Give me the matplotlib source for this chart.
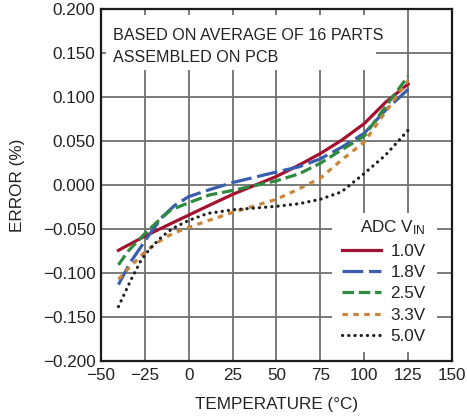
import matplotlib
matplotlib.use("Agg")
import matplotlib.pyplot as plt
from matplotlib.patches import Rectangle

plt.rcParams['font.family'] = ['Liberation Sans', 'DejaVu Sans']
plt.rcParams['mathtext.default'] = 'regular'
plt.rcParams['axes.unicode_minus'] = True

# ---- data ----
t_red = [-40, -25, -12.6, 0, 12, 25, 50, 63, 75, 87, 100, 112, 125]
e_red = [-0.074, -0.058, -0.046, -0.034, -0.0226, -0.0105, 0.010, 0.023, 0.036, 0.051, 0.070, 0.094, 0.115]

t_blue = [-40, -33, -22, -15, -8, 0, 12, 25, 50, 63, 75, 87, 100, 112, 125]
e_blue = [-0.113, -0.087, -0.055, -0.036, -0.023, -0.013, -0.005, 0.003, 0.015, 0.021, 0.030, 0.043, 0.059, 0.085, 0.109]

t_green = [-40, -34.5, -24, -17, -10, 0, 12, 25, 50, 63, 75, 87, 100, 112, 125]
e_green = [-0.0905, -0.075, -0.053, -0.040, -0.028, -0.020, -0.011, -0.006, 0.005, 0.013, 0.025, 0.040, 0.056, 0.089, 0.124]

t_orange = [-40, -35, -30, -25, -19, -13, -8, 0, 10, 25, 50, 63, 75, 87, 100, 112, 125]
e_orange = [-0.107, -0.096, -0.086, -0.076, -0.067, -0.059, -0.054, -0.048, -0.041, -0.031, -0.016, -0.004, 0.008, 0.0285, 0.049, 0.083, 0.119]

t_black = [-40, -33, -27, -22, -15, -9, 0, 11, 25, 50, 63, 75, 87, 100, 112, 125]
e_black = [-0.138, -0.108, -0.085, -0.072, -0.058, -0.049, -0.040, -0.032, -0.028, -0.024, -0.021, -0.016, -0.0076, 0.0133, 0.034, 0.0625]

labels = ['1.0V', '1.8V', '2.5V', '3.3V', '5.0V']
x_ticks = [-50, -25, 0, 25, 50, 75, 100, 125, 150]
y_ticks = [-0.200, -0.150, -0.100, -0.050, 0.000, 0.050, 0.100, 0.150, 0.200]

fig = plt.figure(figsize=(4.67, 4.19), dpi=100)
ax = fig.add_axes([0.216, 0.138, 0.752, 0.840])
ax.set_axisbelow(True)

FS_TICK = 12.3
FS = 11.6
lw = 2.3
series = [
    (t_red, e_red, dict(color='#a3112e', ls='-', lw=lw)),
    (t_blue, e_blue, dict(color='#3b5db0', ls=(0, (6.5, 1.8)), lw=lw)),
    (t_green, e_green, dict(color='#2f8a40', ls=(0, (3.6, 1.5)), lw=lw)),
    (t_orange, e_orange, dict(color='#c9853a', ls=(0, (1.7, 1.7)), lw=lw)),
    (t_black, e_black, dict(color='#1e1e1e', ls=(0, (0.05, 1.9)), lw=2.3, dash_capstyle='round')),
]
for (t, e, st), lab in zip(series, labels):
    ax.plot(t, e, label=lab, zorder=3, **st)

ax.set_xlim(-50, 150)
ax.set_ylim(-0.2, 0.2)
ax.set_xticks(x_ticks)
ax.set_yticks(y_ticks)
ax.set_xticklabels([f"{v:d}".replace('-', '\u2212') for v in x_ticks])
ax.set_yticklabels([f"{v:.3f}".replace('-', '\u2212') for v in y_ticks])
ax.tick_params(length=0, labelsize=FS_TICK, colors='#222222')
ax.tick_params(axis='y', pad=3.8)
ax.tick_params(axis='x', pad=5.0)
ax.grid(True, color='#707070', lw=1.3)
for s in ax.spines.values():
    s.set_color('#1a1a1a')
    s.set_linewidth(1.6)

ax.set_xlabel('TEMPERATURE (°C)', fontsize=FS_TICK, color='#222222', labelpad=10)
ax.set_ylabel('ERROR (%)', fontsize=FS_TICK, color='#222222', labelpad=13)

# white boxes covering the grid
ax.add_patch(Rectangle((0.014, 0.827), 0.769, 0.156, transform=ax.transAxes,
                       fc='white', ec='none', zorder=1))
ax.add_patch(Rectangle((0.658, 0.026), 0.299, 0.394, transform=ax.transAxes,
                       fc='white', ec='none', zorder=1))

ax.text(0.034, 0.948, 'BASED ON AVERAGE OF 16 PARTS\nASSEMBLED ON PCB',
        transform=ax.transAxes, fontsize=FS, color='#222222', va='top', ha='left',
        linespacing=1.62, zorder=4)

leg = ax.legend(loc='upper right', bbox_to_anchor=(0.925, 0.405), frameon=False,
                title='ADC V$_{IN}$', fontsize=FS_TICK, title_fontsize=FS_TICK,
                handlelength=2.3, handletextpad=0.55, labelspacing=0.37,
                borderpad=0, borderaxespad=0, alignment='right')
for txt in leg.get_texts():
    txt.set_color('#222222')
leg.get_title().set_color('#222222')
leg.set_zorder(5)

fig.savefig('out.png', dpi=100)
